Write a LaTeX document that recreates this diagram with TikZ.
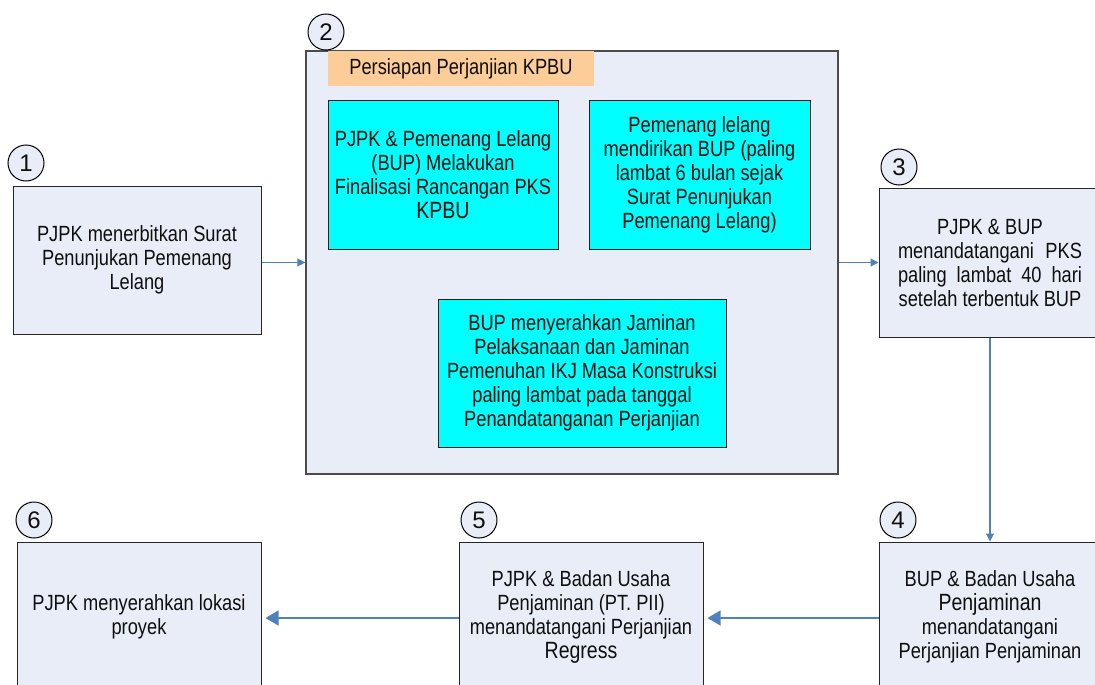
\documentclass[tikz,border=0pt]{standalone}
\usepackage{fontspec}
\setmainfont{Liberation Sans}[FakeStretch=0.83]
\newfontfamily\numface{Liberation Sans}
\usetikzlibrary{arrows.meta}
\definecolor{boxfill}{RGB}{232,237,247}
\definecolor{taskcyan}{RGB}{0,255,255}
\definecolor{headpeach}{RGB}{252,204,153}
\definecolor{flowblue}{RGB}{79,129,189}
\definecolor{inkgray}{RGB}{15,15,15}
\newcommand{\bigword}[1]{{\fontsize{23.5}{24}\selectfont #1}}
\tikzset{
  every node/.style={font=\fontsize{22}{24}\selectfont, text=inkgray},
  stagebox/.style={draw=black!85, line width=1pt, fill=boxfill, align=center,
                   inner sep=0pt},
  taskbox/.style={draw=black!90, line width=1pt, fill=taskcyan, align=center,
                  inner sep=0pt},
  groupbox/.style={draw=black!70, line width=1.2pt, fill=boxfill, inner sep=0pt},
  headbar/.style={fill=headpeach, inner sep=0pt},
  stepnum/.style={circle, draw=black, line width=1pt, fill=boxfill,
                  minimum size=36pt, inner sep=0pt,
                  font=\numface\fontsize{24}{24}\selectfont},
  flow/.style={draw=flowblue, line width=1.2pt},
  smalltip/.style={-{Triangle[length=8pt,width=8pt]}},
  bigtip/.style={-{Triangle[length=13pt,width=15pt]}}
}
\begin{document}
\begin{tikzpicture}[x=1pt,y=-1pt]
\useasboundingbox (0,0) rectangle (1095,685);
\clip (0,0) rectangle (1095,685);

% stage 1
\node[stagebox, minimum width=248pt, minimum height=148pt] (b1) at (137,260)
  {PJPK menerbitkan Surat\\Penunjukan Pemenang\\Lelang};

% stage 2: group of preparation tasks
\node[groupbox, minimum width=532pt, minimum height=423pt] (b2) at (572,262.5) {};
\node[headbar, minimum width=266pt, minimum height=35pt] (hdr) at (461,68.5)
  {Persiapan Perjanjian KPBU};
\node[taskbox, minimum width=230pt, minimum height=149pt] (ta) at (443,174.5)
  {PJPK \& Pemenang Lelang\\(BUP) Melakukan\\Finalisasi Rancangan PKS\\\bigword{KPBU}};
\node[taskbox, minimum width=221pt, minimum height=149pt] (tb) at (699.5,174.5)
  {Pemenang lelang\\mendirikan BUP (paling\\lambat 6 bulan sejak\\Surat Penunjukan\\Pemenang Lelang)};
\node[taskbox, minimum width=288pt, minimum height=148pt] (tc) at (582,373)
  {BUP menyerahkan Jaminan\\Pelaksanaan dan Jaminan\\Pemenuhan IKJ Masa Konstruksi\\paling lambat pada tanggal\\Penandatanganan Perjanjian};

% stage 3
\node[stagebox, minimum width=222pt, minimum height=149pt] (b3) at (990,262.5)
  {PJPK \& BUP\\\makebox[184pt][s]{menandatangani PKS}\\\makebox[184pt][s]{paling lambat 40 hari}\\setelah terbentuk BUP};

% stages 4, 5, 6
\node[stagebox, minimum width=222pt, minimum height=149pt] (b4) at (990,616.5)
  {BUP \& Badan Usaha\\\bigword{Penjaminan}\\menandatangani\\Perjanjian Penjaminan};
\node[stagebox, minimum width=244pt, minimum height=149pt] (b5) at (581,616.5)
  {PJPK \& Badan Usaha\\Penjaminan (PT. PII)\\menandatangani Perjanjian\\\bigword{Regress}};
\node[stagebox, minimum width=244pt, minimum height=149pt] (b6) at (139,616.5)
  {PJPK menyerahkan lokasi\\proyek};

% step numbers
\node[stepnum] (n1) at (26,163) {1};
\node[stepnum] (n2) at (326,32) {2};
\node[stepnum] (n3) at (899,167) {3};
\node[stepnum] (n4) at (898,520) {4};
\node[stepnum] (n5) at (479,520) {5};
\node[stepnum] (n6) at (34,520) {6};

% flow between stages
\draw[flow, smalltip] (b1.east |- b2.west) -- (b2.west);
\draw[flow, smalltip] (b2.east) -- (b3.west);
\draw[flow, smalltip] (b3.south) -- (b4.north);
\draw[flow, bigtip, shorten >=4pt] (b4.west |- 0,618) -- (b5.east |- 0,618);
\draw[flow, bigtip, shorten >=4pt] (b5.west |- 0,618) -- (b6.east |- 0,618);
\end{tikzpicture}
\end{document}
